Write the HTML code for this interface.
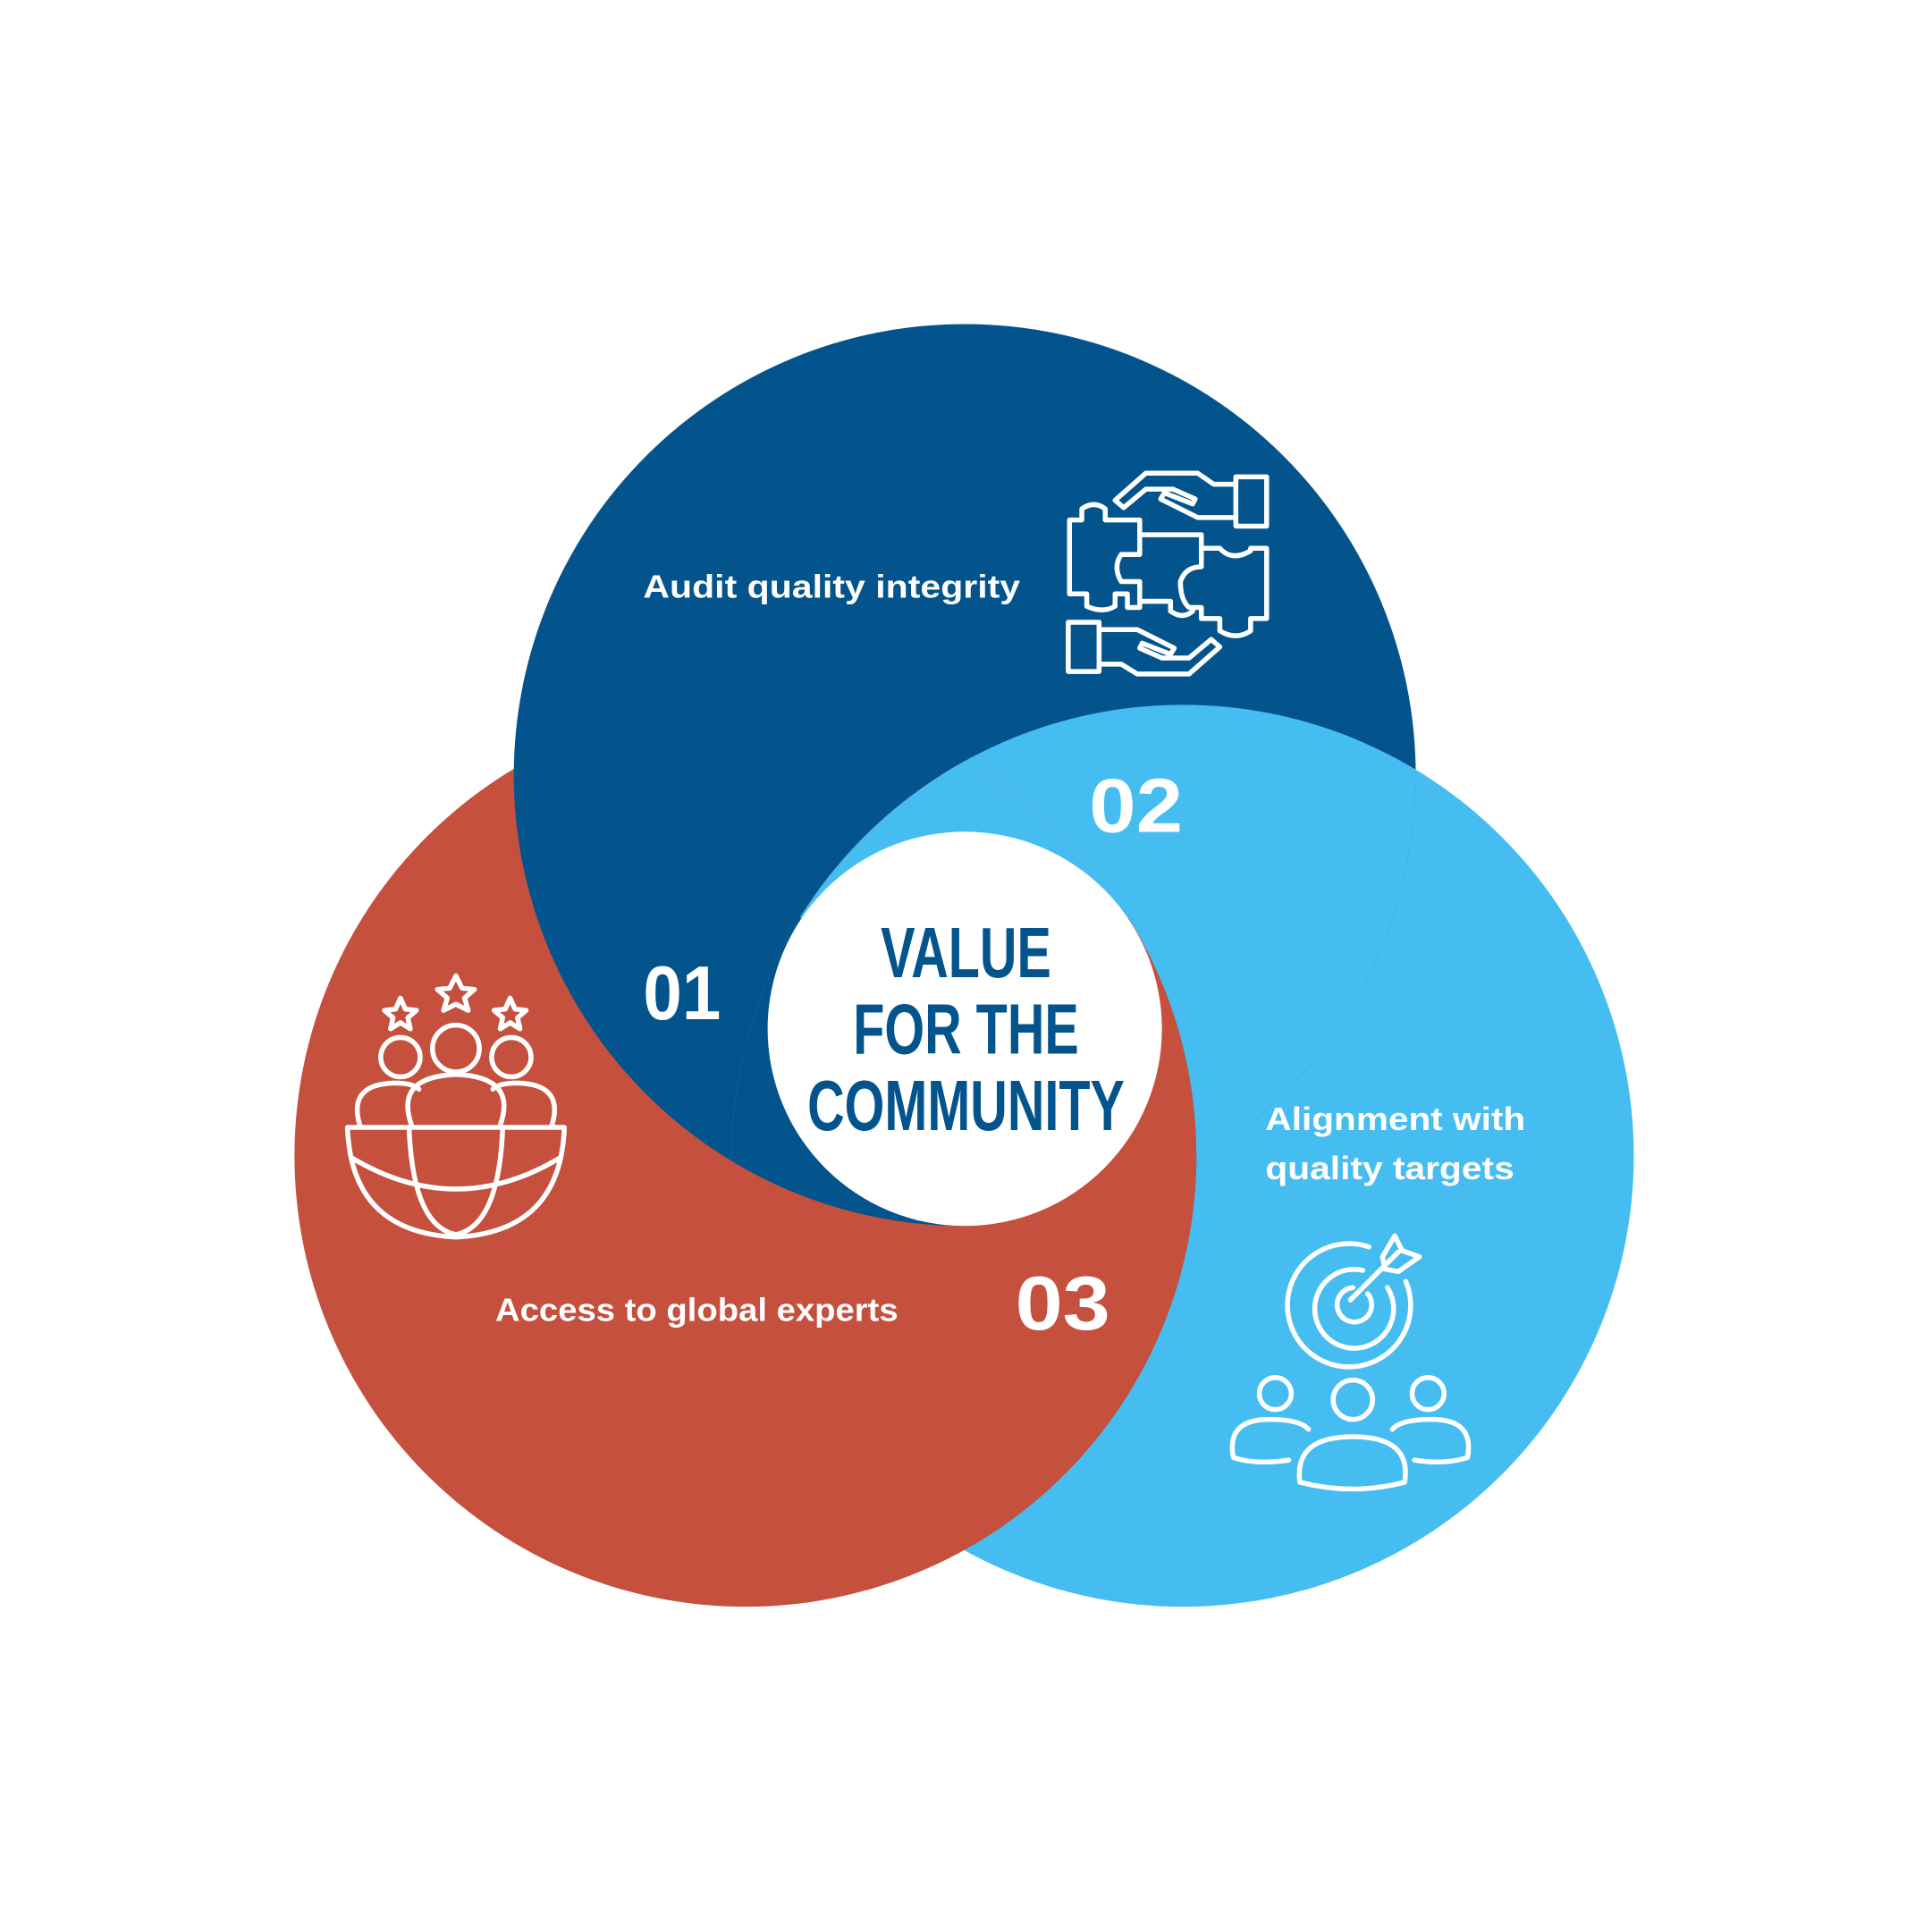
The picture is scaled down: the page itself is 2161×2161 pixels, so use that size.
<!DOCTYPE html>
<html><head><meta charset="utf-8"><style>html,body{margin:0;padding:0;background:#fff}svg{display:block}</style></head>
<body>
<svg width="2161" height="2161" viewBox="0 0 1568 1568" xmlns="http://www.w3.org/2000/svg">
<defs>
<clipPath id="cb"><circle cx="783" cy="629" r="366"/></clipPath>
<clipPath id="cl"><circle cx="960" cy="938" r="366"/></clipPath>
<clipPath id="cr"><circle cx="605" cy="938" r="366"/></clipPath>
</defs>
<rect width="1568" height="1568" fill="#fff"/>
<circle cx="960" cy="938" r="366" fill="#46bdf0"/>
<circle cx="605" cy="938" r="366" fill="#c4503d"/>
<circle cx="783" cy="629" r="366" fill="#03548c"/>
<g clip-path="url(#cb)"><circle cx="960" cy="938" r="366" fill="#46bdf0"/></g>
<g clip-path="url(#cl)"><circle cx="605" cy="938" r="366" fill="#c4503d"/></g>
<g clip-path="url(#cb)"><g clip-path="url(#cl)"><g clip-path="url(#cr)">
<rect x="0" y="0" width="1568" height="745" fill="#46bdf0"/>
<rect x="0" y="745" width="783" height="800" fill="#03548c"/>
</g></g></g>
<circle cx="783" cy="835" r="160" fill="#fff"/>
<g font-family="Liberation Sans, sans-serif" font-weight="bold" fill="#03548c" text-anchor="middle" font-size="58">
<text x="784" y="793" transform="translate(784 0) scale(0.72 1) translate(-784 0)">VALUE</text>
<text x="784" y="855" transform="translate(784 0) scale(0.72 1) translate(-784 0)">FOR THE</text>
<text x="784" y="917" transform="translate(784 0) scale(0.72 1) translate(-784 0)">COMMUNITY</text>
</g>
<g font-family="Liberation Sans, sans-serif" font-weight="bold" fill="#fff">
<text x="522" y="827" font-size="62" textLength="63" lengthAdjust="spacingAndGlyphs">01</text>
<text x="884" y="675" font-size="62" textLength="76" lengthAdjust="spacingAndGlyphs">02</text>
<text x="824" y="1079" font-size="62" textLength="77" lengthAdjust="spacingAndGlyphs">03</text>
<text x="522" y="485" font-size="26" textLength="306" lengthAdjust="spacingAndGlyphs">Audit quality integrity</text>
<text x="1027" y="917" font-size="26" textLength="211" lengthAdjust="spacingAndGlyphs">Alignment with</text>
<text x="1027" y="957" font-size="26" textLength="202" lengthAdjust="spacingAndGlyphs">quality targets</text>
<text x="402" y="1072" font-size="26" textLength="327" lengthAdjust="spacingAndGlyphs">Access to global experts</text>
</g>
<g fill="none" stroke="#fff" stroke-width="4" stroke-linejoin="round" stroke-linecap="round">
<rect x="1003" y="387" width="25" height="40"/>
<path d="M1003 393 H985 L972 384 H930 L905 406 L912 412 L930 397 H952 L970 405 L968 409 L945 400 L942 405 L972 420 H1003"/>
<rect x="867" y="505" width="25" height="40"/>
<path d="M892 539 H910 L923 547 H965 L990 525 L983 519 L965 534 H943 L925 526 L927 522 L950 531 L953 526 L923 511 H892"/>
<path d="M868 422 H878 V413 Q888 406 897 413 V422 H925 V434 H975 V445 H990 Q1000 456 1015 447 V445 H1028 V502 H1015 V512 Q1003 520 990 512 V502 H975 V493 H965 Q958 487 958 472 Q962 460 975 460 V445 M925 434 V450 H910 Q903 460 910 472 H925 V488 H950 V496 Q960 503 968 496 V493 M868 422 V482 H882 V492 Q895 498 905 492 V482 H915 V493 H925 V488"/>
<circle cx="325" cy="858" r="16"/><circle cx="370" cy="851" r="19"/><circle cx="415" cy="858" r="16"/>
<path d="M292 913 Q282 880 320 879 Q335 879 340 884 M448 913 Q458 880 420 879 Q405 879 400 884 M334 913 Q320 874 370 872 Q420 874 406 913"/>
<path d="M282 915 H458 Q455 1000 370 1004 Q285 1000 282 915 Z M286 940 Q370 990 454 940 M332 915 Q335 995 370 1002 Q405 995 408 915"/>
<path d="M325 810 l4 9 9 1 -7 6 2 9 -8 -5 -8 5 2 -9 -7 -6 9 -1z M370 792 l5 10 10 1 -8 7 3 10 -10 -5 -10 5 3 -10 -8 -7 10 -1z M414 810 l4 9 9 1 -7 6 2 9 -8 -5 -8 5 2 -9 -7 -6 9 -1z"/>
<path d="M1111 1012 A50 50 0 1 0 1141 1040"/>
<path d="M1106 1031 A32 32 0 1 0 1126 1045"/>
<path d="M1098 1045 A14 14 0 1 0 1110 1050"/>
<path d="M1096 1055 L1135 1016 M1122 1020 L1132 1003 L1138 1015 L1152 1020 L1135 1032 L1124 1030Z"/>
<circle cx="1035" cy="1131" r="13"/><circle cx="1098" cy="1136" r="16"/><circle cx="1159" cy="1131" r="13"/>
<path d="M1046 1185 Q1020 1189 1001 1183 Q995 1152 1030 1152 Q1055 1152 1062 1160 M1130 1160 Q1137 1152 1162 1152 Q1197 1152 1191 1183 Q1172 1189 1148 1185 M1055 1203 Q1098 1214 1140 1203 Q1146 1166 1098 1166 Q1050 1166 1055 1203Z"/>
</g>
</svg>
</body></html>
